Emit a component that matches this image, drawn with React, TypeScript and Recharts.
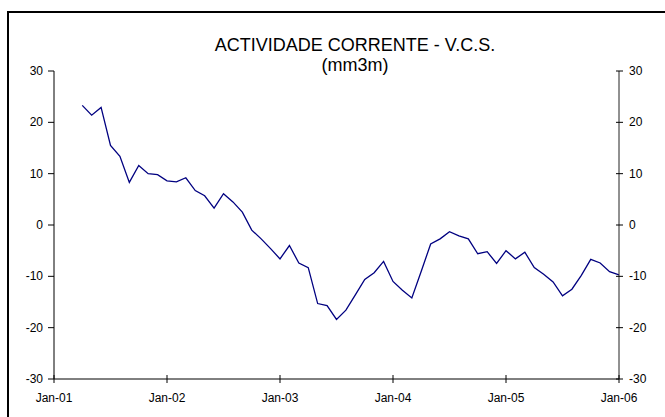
import { LineChart, Line, XAxis, YAxis } from 'recharts'

// months counted from Jan-01 (0) ; series starts Apr-01
const START_MONTH = 3
const values = [
  23.3, 21.4, 22.9, 15.5, 13.4, 8.3, 11.6, 10.0, 9.8, 8.6,
  8.4, 9.2, 6.7, 5.7, 3.3, 6.1, 4.5, 2.5, -1.0, -2.7,
  -4.6, -6.6, -4.0, -7.4, -8.3, -15.3, -15.7, -18.4, -16.6, -13.6,
  -10.6, -9.3, -7.1, -11.0, -12.7, -14.2, -9.0, -3.7, -2.7, -1.3,
  -2.1, -2.7, -5.6, -5.2, -7.5, -5.0, -6.6, -5.3, -8.3, -9.6,
  -11.1, -13.8, -12.5, -9.8, -6.7, -7.4, -9.1, -9.7,
]
const xTicks = [0, 12, 24, 36, 48, 60]
const xLabels = ['Jan-01', 'Jan-02', 'Jan-03', 'Jan-04', 'Jan-05', 'Jan-06']
const yTicks = [-30, -20, -10, 0, 10, 20, 30]

const data = values.map((v, i) => ({ month: START_MONTH + i, value: v }))

const FONT = '"Liberation Sans", Arial, sans-serif'

const XTick = ({ x, y, payload }: any) => {
  const idx = xTicks.indexOf(payload.value)
  return (
    <g>
      <line x1={x} x2={x} y1={y - 4} y2={y + 4} stroke="#000" />
      <text x={x} y={y + 23} textAnchor="middle" fontSize={12} fontFamily={FONT} fill="#000">
        {xLabels[idx]}
      </text>
    </g>
  )
}

const LeftTick = ({ x, y, payload }: any) => (
  <g>
    <line x1={x - 6} x2={x} y1={y} y2={y} stroke="#000" />
    <text x={x - 11} y={y + 4} textAnchor="end" fontSize={12} fontFamily={FONT} fill="#000">
      {payload.value}
    </text>
  </g>
)

const RightTick = ({ x, y, payload }: any) => (
  <g>
    <line x1={x - 3} x2={x + 4} y1={y} y2={y} stroke="#000" />
    <text x={x + 10} y={y + 4} textAnchor="start" fontSize={12} fontFamily={FONT} fill="#000">
      {payload.value}
    </text>
  </g>
)

export default function App() {
  return (
    <div style={{ position: 'relative', width: 665, height: 417, overflow: 'hidden', background: '#fff' }}>
      <style>{'body{margin:0}'}</style>
      <div
        style={{
          position: 'absolute',
          left: 7,
          top: 11,
          width: 720,
          height: 460,
          border: '2px solid #000',
        }}
      />
      <div
        style={{
          position: 'absolute',
          left: 155,
          top: 34.5,
          width: 400,
          textAlign: 'center',
          fontFamily: FONT,
          fontSize: 18,
          lineHeight: '20px',
          color: '#000',
        }}
      >
        <div>ACTIVIDADE CORRENTE - V.C.S.</div>
        <div>(mm3m)</div>
      </div>
      <div style={{ position: 'absolute', left: 0, top: 0 }}>
        <LineChart width={665} height={417} data={data} margin={{ top: 71, right: 0, bottom: 8, left: 0 }}>
          <XAxis
            dataKey="month"
            type="number"
            domain={[0, 60]}
            ticks={xTicks}
            interval={0}
            height={30}
            stroke="#000"
            tickSize={0}
            tickMargin={0}
            tickLine={false}
            tick={<XTick />}
          />
          <YAxis
            yAxisId="left"
            type="number"
            domain={[-30, 30]}
            ticks={yTicks}
            interval={0}
            width={54}
            stroke="#000"
            tickSize={0}
            tickMargin={0}
            tickLine={false}
            tick={<LeftTick />}
          />
          <YAxis
            yAxisId="right"
            type="number"
            orientation="right"
            domain={[-30, 30]}
            allowDataOverflow
            ticks={yTicks}
            interval={0}
            width={46}
            stroke="#222"
            tickSize={0}
            tickMargin={0}
            tickLine={false}
            tick={<RightTick />}
          />
          <Line
            yAxisId="left"
            dataKey="value"
            type="linear"
            stroke="#000080"
            strokeWidth={1.3}
            dot={false}
            isAnimationActive={false}
          />
        </LineChart>
      </div>
    </div>
  )
}
